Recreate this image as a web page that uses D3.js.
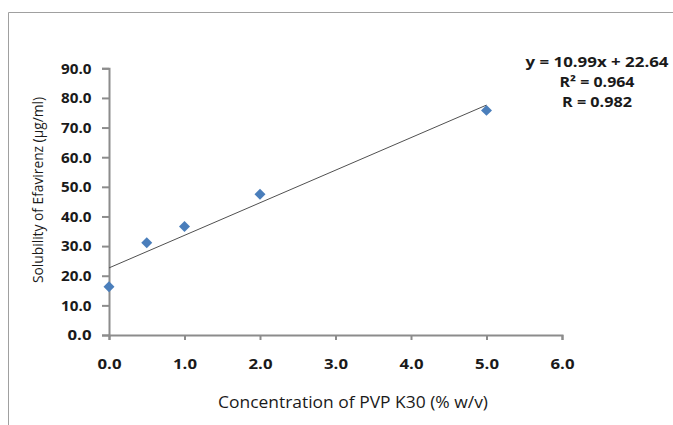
<!DOCTYPE html>
<html><head><meta charset="utf-8">
<script src="https://cdnjs.cloudflare.com/ajax/libs/d3/7.8.5/d3.min.js"></script>
<style>body{margin:0;background:#fff}svg{display:block}text{font-family:"Open Sans",Lato,sans-serif}</style>
</head><body><svg id="c" width="673" height="425"></svg>
<script>
const concentrations = [0, 0.5, 1, 2, 5];
const solubility = [16.3, 31.1, 36.6, 47.5, 75.8];
const xTicks = [0, 1, 2, 3, 4, 5, 6];
const yTicks = [0, 10, 20, 30, 40, 50, 60, 70, 80, 90];
const slope = 10.99, intercept = 22.64;
const eqLines = ["y = 10.99x + 22.64", "R² = 0.964", "R = 0.982"];
const xTitle = "Concentration of PVP K30 (% w/v)";
const yTitle = "Solubility of Efavirenz (µg/ml)";

const svg = d3.select("#c");
const ink = "#1a1a1a";
// frame
svg.append("path").attr("d","M8.5,425 L8.5,12.5 L673,12.5").attr("fill","none").attr("stroke","#a0a0a0").attr("stroke-width",1);

const x = d3.scaleLinear().domain([0,6]).range([109,562]);
const y = d3.scaleLinear().domain([0,90]).range([335,68.3]);

const axisColor = "#8c8c8c";
const gx = svg.append("g").attr("transform","translate(0,335)")
  .call(d3.axisBottom(x).tickValues(xTicks).tickFormat(d3.format(".1f")).tickSize(5));
const gy = svg.append("g").attr("transform","translate(109,0)")
  .call(d3.axisLeft(y).tickValues(yTicks).tickFormat(d3.format(".1f")).tickSize(7));
[gx,gy].forEach(g=>{
  g.select(".domain").attr("stroke",axisColor).attr("stroke-width",2);
  g.selectAll(".tick line").attr("stroke",axisColor).attr("stroke-width",2);
  g.selectAll(".tick text").attr("fill",ink).style("font-size","13.5px").style("font-weight","bold")
    .style("font-family","'Open Sans',sans-serif").attr("lengthAdjust","spacingAndGlyphs");
});
gx.selectAll(".tick text").attr("y",33.5).attr("dy",0).attr("textLength",24);
gy.selectAll(".tick text").attr("x",-17.5).attr("dy","0.36em").attr("textLength",d=>d>=10?30.5:24);

// trendline
svg.append("line")
  .attr("x1",x(0)).attr("y1",y(intercept))
  .attr("x2",x(5)).attr("y2",y(slope*5+intercept))
  .attr("stroke","#505050").attr("stroke-width",1);

// markers
svg.append("g").selectAll("path").data(concentrations).join("path")
  .attr("d", d3.symbol().type(d3.symbolSquare).size(60))
  .attr("transform",(d,i)=>`translate(${x(d)},${y(solubility[i])}) rotate(45)`)
  .attr("fill","#4a7ebb");

// equation
const eqWidths = [143, 75, 70];
svg.append("g").selectAll("text").data(eqLines).join("text")
  .attr("x",597).attr("y",(d,i)=>66.5+i*20)
  .attr("text-anchor","middle").attr("fill",ink)
  .attr("textLength",(d,i)=>eqWidths[i]).attr("lengthAdjust","spacingAndGlyphs")
  .style("font-size","13.5px").style("font-weight","bold")
  .text(d=>d);

// titles
svg.append("text").attr("x",353).attr("y",408).attr("text-anchor","middle")
  .attr("textLength",270).attr("lengthAdjust","spacingAndGlyphs")
  .attr("fill",ink).style("font-size","15.5px").text(xTitle);
svg.append("text").attr("transform","translate(43,190) rotate(-90)").attr("text-anchor","middle")
  .attr("textLength",186).attr("lengthAdjust","spacingAndGlyphs")
  .attr("fill",ink).style("font-size","15px").text(yTitle);
</script></body></html>
